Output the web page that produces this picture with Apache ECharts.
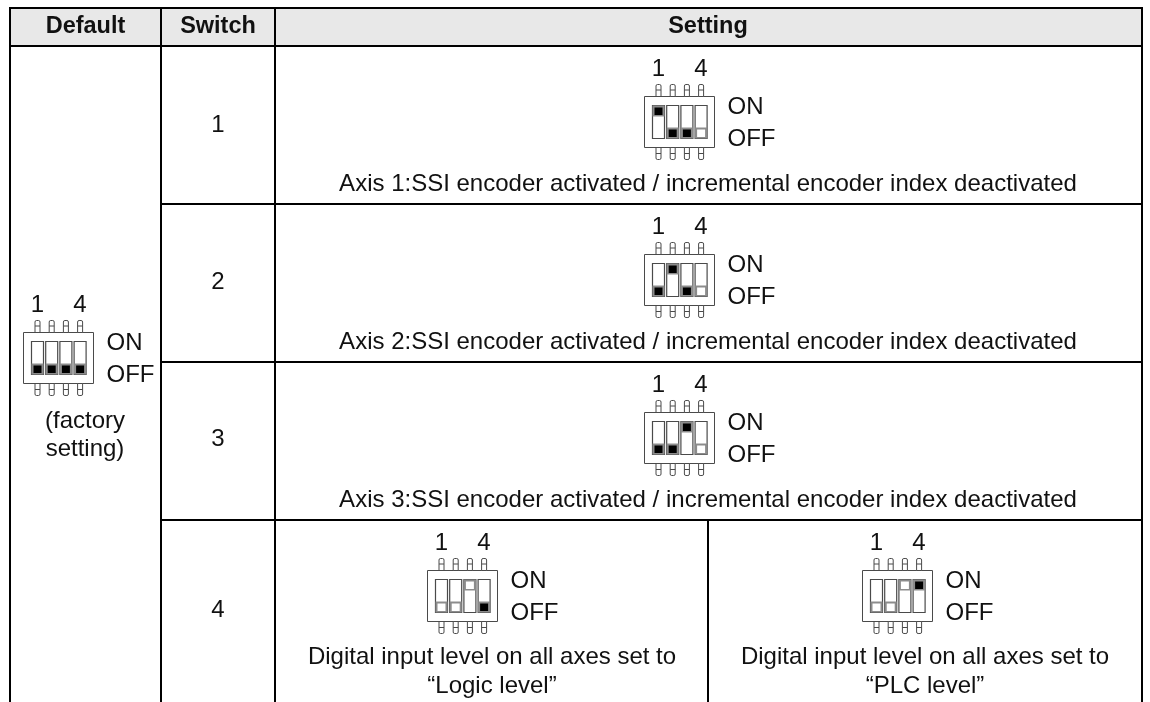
<!DOCTYPE html>
<html>
<head>
<meta charset="utf-8">
<title>DIP switch settings</title>
<style>
html, body { margin: 0; padding: 0; background: #fff; }
#main { width: 1150px; height: 702px; }
</style>
<script src="https://cdn.jsdelivr.net/npm/echarts@6/dist/echarts.min.js"></script>
</head>
<body>
<div id="main"></div>
<script>
// table text
var headers = ['Default', 'Switch', 'Setting'];
var switchNumbers = ['1', '2', '3', '4'];
var defaultNote = ['(factory', 'setting)'];
var captions = [
    ['Axis 1:SSI encoder activated / incremental encoder index deactivated'],
    ['Axis 2:SSI encoder activated / incremental encoder index deactivated'],
    ['Axis 3:SSI encoder activated / incremental encoder index deactivated'],
    ['Digital input level on all axes set to', '\u201CLogic level\u201D'],
    ['Digital input level on all axes set to', '\u201CPLC level\u201D']
];

// dip switch states, first one is the factory setting: 1 = ON, 0 = OFF
var leverUp = [
    [0, 0, 0, 0],
    [1, 0, 0, 0],
    [0, 1, 0, 0],
    [0, 0, 1, 0],
    [0, 0, 1, 0],
    [0, 0, 1, 1]
];
// 1 = black lever (relevant), 0 = hollow lever
var leverBlack = [
    [1, 1, 1, 1],
    [1, 1, 1, 0],
    [1, 1, 1, 0],
    [1, 1, 1, 0],
    [0, 0, 0, 1],
    [0, 0, 0, 1]
];

// layout, in picture pixels
var FONT = '"Liberation Sans", Arial, sans-serif';
var SIZE = 24;
var LINE = '#000';
var DIP = '#4a4a4a';
var columnX = [10, 161, 275, 1142];
var splitX = 708;
var rowY = [8, 46, 204, 362, 520, 702];
var dipAt = [[23, 332], [644, 96], [644, 254], [644, 412], [427, 570], [862, 570]];
var captionAt = [[708, 184], [708, 342], [708, 500], [492, 657], [925, 657]];
var numberY = [125, 282, 439, 610];

function text(p, s, size, weight) {
    return {
        type: 'text',
        style: {
            text: s, x: p[0], y: p[1], fill: '#111',
            font: (weight || 'normal') + ' ' + size + 'px ' + FONT,
            align: 'center', verticalAlign: 'middle'
        }
    };
}

function line(a, b, color, w) {
    return {
        type: 'line',
        shape: { x1: a[0], y1: a[1], x2: b[0], y2: b[1] },
        style: { stroke: color, lineWidth: w }
    };
}

function box(p, w, h, fill, stroke, lw, r) {
    return {
        type: 'rect',
        shape: { x: p[0], y: p[1], width: w, height: h, r: r || 0 },
        style: { fill: fill, stroke: stroke || null, lineWidth: lw || 0 }
    };
}

function renderTable(params, api) {
    var c = [];
    var at = function (x, y) { return api.coord([x, y]); };
    c.push(box(at(columnX[0], rowY[0]), columnX[3] - columnX[0], rowY[1] - rowY[0], '#e8e8e8'));
    // horizontal rules
    c.push(line(at(columnX[0] - 1, rowY[0]), at(columnX[3] + 1, rowY[0]), LINE, 2));
    c.push(line(at(columnX[0] - 1, rowY[1]), at(columnX[3] + 1, rowY[1]), LINE, 2));
    for (var i = 2; i < 5; i++) {
        c.push(line(at(columnX[1], rowY[i]), at(columnX[3], rowY[i]), LINE, 2));
    }
    // vertical rules
    for (var k = 0; k < columnX.length; k++) {
        c.push(line(at(columnX[k], rowY[0]), at(columnX[k], rowY[5]), LINE, 2));
    }
    c.push(line(at(splitX, rowY[4]), at(splitX, rowY[5]), LINE, 2));
    // header + first columns
    c.push(text(at(85.5, 27), headers[0], 23.5, 'bold'));
    c.push(text(at(218, 27), headers[1], 23.5, 'bold'));
    c.push(text(at(708, 27), headers[2], 23.5, 'bold'));
    switchNumbers.forEach(function (n, j) {
        c.push(text(at(218, numberY[j]), n, SIZE));
    });
    c.push(text(at(85, 421), defaultNote[0], SIZE));
    c.push(text(at(85, 449), defaultNote[1], SIZE));
    captions.forEach(function (lines, j) {
        lines.forEach(function (s, m) {
            c.push(text(at(captionAt[j][0], captionAt[j][1] + m * 29), s, SIZE));
        });
    });
    return { type: 'group', children: c };
}

function renderDip(params, api) {
    var ox = api.value(0), oy = api.value(1);
    var at = function (x, y) { return api.coord([ox + x, oy + y]); };
    var up = leverUp[params.dataIndex], black = leverBlack[params.dataIndex];
    var c = [];
    // body
    c.push(box(at(0.5, 0.5), 70, 51, '#fff', DIP, 1));
    for (var i = 0; i < 4; i++) {
        var sx = 8 + i * 14.2;
        var mid = sx + 6.5;
        // pins
        c.push(box(at(mid - 2.5, -11.5), 5, 12, '#fff', DIP, 1, [1.5, 1.5, 0, 0]));
        c.push(line(at(mid - 2.5, -6), at(mid + 2.5, -6), DIP, 1));
        c.push(box(at(mid - 2.5, 51.5), 5, 12, '#fff', DIP, 1, [0, 0, 1.5, 1.5]));
        c.push(line(at(mid - 2.5, 57.5), at(mid + 2.5, 57.5), DIP, 1));
        // slot
        c.push(box(at(sx + 0.5, 9.5), 12, 33, '#fff', DIP, 1.2));
        // lever
        var ly = up[i] ? 9.5 : 31.5;
        c.push(box(at(sx + 0.5, ly), 12, 11, '#8c8c8c'));
        c.push(box(at(sx + 2.5, ly + 2), 8, 7.5, black[i] ? '#000' : '#fff'));
    }
    // numbers + ON/OFF
    c.push(text(at(14.5, -27), '1', SIZE));
    c.push(text(at(57, -27), '4', SIZE));
    var on = text(at(83.5, 11), 'ON', SIZE);
    on.style.align = 'left';
    var off = text(at(83.5, 43), 'OFF', SIZE);
    off.style.align = 'left';
    c.push(on, off);
    return { type: 'group', children: c };
}

var chart = echarts.init(document.getElementById('main'), null, { renderer: 'canvas' });
chart.setOption({
    animation: false,
    backgroundColor: '#fff',
    grid: { left: 0, right: 0, top: 0, bottom: 0 },
    xAxis: { type: 'value', min: 0, max: 1150, show: false },
    yAxis: { type: 'value', min: 0, max: 702, inverse: true, show: false },
    tooltip: { show: false },
    series: [
        { type: 'custom', silent: true, clip: false, data: [[0, 0]], renderItem: renderTable },
        { type: 'custom', silent: true, clip: false, data: dipAt, renderItem: renderDip }
    ]
});
</script>
</body>
</html>
